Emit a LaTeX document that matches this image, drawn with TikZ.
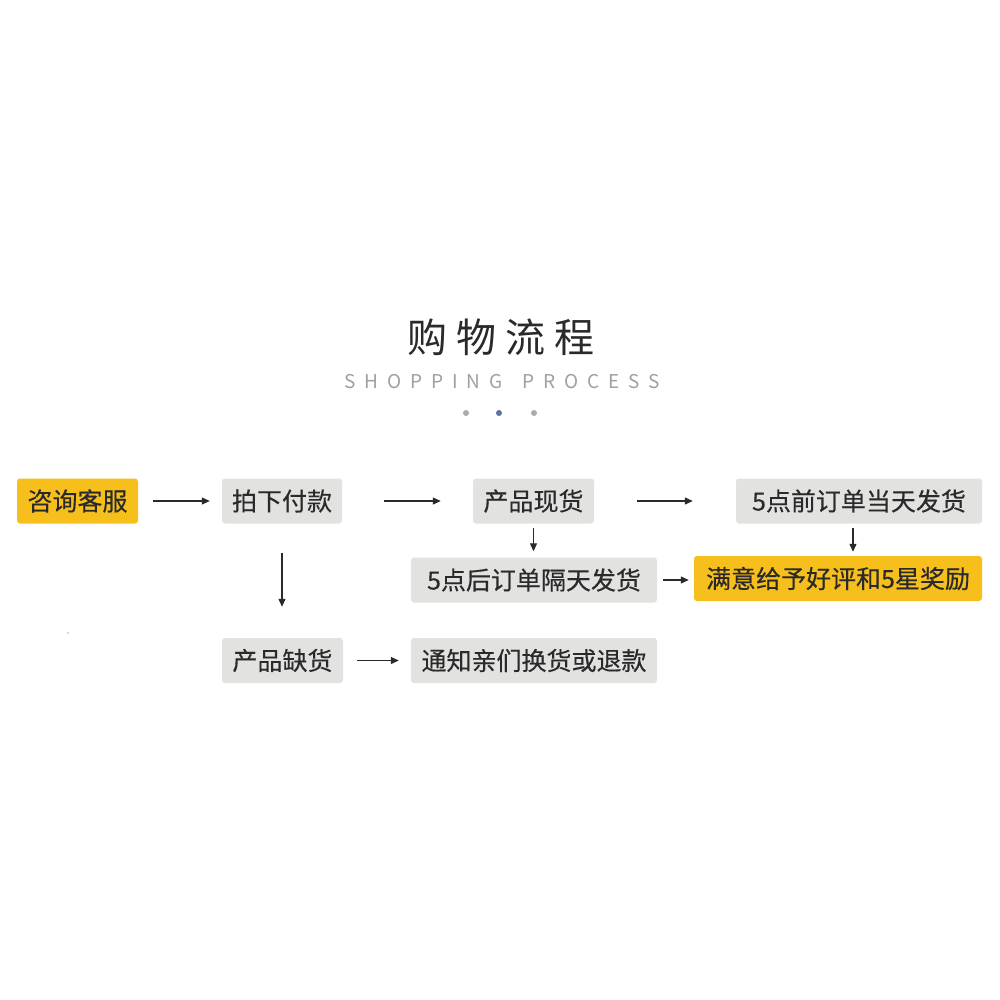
\documentclass[tikz,border=0pt]{standalone}
\usepackage{fontspec}
\usetikzlibrary{arrows.meta}
\newfontfamily\cjk[FakeBold=0.35]{Noto Sans CJK SC}
\newfontfamily\cjktitle{Noto Sans CJK SC}
\newfontfamily\cjkspaced[LetterSpace=47]{Noto Sans CJK SC}
\definecolor{boxgray}{HTML}{E2E2E0}
\definecolor{boxyellow}{HTML}{F6BF1B}
\definecolor{txtdark}{HTML}{2A2A2A}
\definecolor{subgray}{HTML}{A0A0A0}
\definecolor{dotgray}{HTML}{ABABAB}
\definecolor{dotblue}{HTML}{5A74A8}
\begin{document}
\begin{tikzpicture}[x=1pt,y=-1pt,
  base/.style={rounded corners=3pt, inner sep=0pt, minimum height=45pt,
    font=\cjk\fontsize{25}{29}\selectfont, text=txtdark},
  graybox/.style={base, fill=boxgray},
  yellowbox/.style={base, fill=boxyellow},
  arr/.style={draw=txtdark, line width=1.2pt, -{Triangle[length=8pt,width=7pt]}}
]
\useasboundingbox (0,0) rectangle (1000,1000);
\fill[white] (0,0) rectangle (1000,1000);

% title
\node[font=\cjktitle\fontsize{40}{44}\selectfont, text=txtdark, inner sep=0pt] (title) at (501,337) {购\hspace{9pt}物\hspace{9pt}流\hspace{9pt}程};
\node[font=\cjkspaced\fontsize{19}{22}\selectfont, text=subgray, inner sep=0pt] (sub) at (502,382) {SHOPPING\hspace{7pt} PROCESS};
\fill[dotgray] (466,413) circle (3pt);
\fill[dotblue] (499,413) circle (3pt);
\fill[dotgray] (534,413) circle (3pt);
\fill[gray!60] (68,633) circle (0.9pt);

% row 1
\node[yellowbox, minimum width=121pt] (zx) at (77.5,501) {咨询客服};
\node[graybox, minimum width=120pt] (pf) at (282,501) {拍下付款};
\node[graybox, minimum width=121pt] (xh) at (533.5,501) {产品现货};
\node[graybox, minimum width=246pt] (qf) at (859,501) {5点前订单当天发货};

% row 2
\node[graybox, minimum width=246pt] (hf) at (534,580) {5点后订单隔天发货};
\node[yellowbox, minimum width=288pt] (my) at (838,578.5) {满意给予好评和5星奖励};

% row 3
\node[graybox, minimum width=121pt] (qh) at (282.5,660.5) {产品缺货};
\node[graybox, minimum width=246pt] (tz) at (534,660.5) {通知亲们换货或退款};

% connectors
\draw[arr, shorten <=15pt, shorten >=12pt] (zx.east) -- (pf.west);
\draw[arr, shorten <=42pt, shorten >=32pt] (pf.east) -- (pf.east -| xh.west);
\draw[arr, shorten <=43pt, shorten >=43pt] (xh.east) -- (xh.east -| qf.west);
\draw[arr, shorten <=4pt, shorten >=6pt] (xh.south) -- (xh.south |- hf.north);
\draw[arr, shorten <=4pt, shorten >=4pt] ([xshift=-6pt]qf.south) -- ([xshift=-6pt]qf.south |- my.north);
\draw[arr, shorten <=6pt, shorten >=5pt] (hf.east) -- (hf.east -| my.west);
\draw[arr, shorten <=29pt, shorten >=31pt] (pf.south) -- (pf.south |- qh.north);
\draw[arr, shorten <=14pt, shorten >=12pt] (qh.east) -- (qh.east -| tz.west);
\end{tikzpicture}
\end{document}
